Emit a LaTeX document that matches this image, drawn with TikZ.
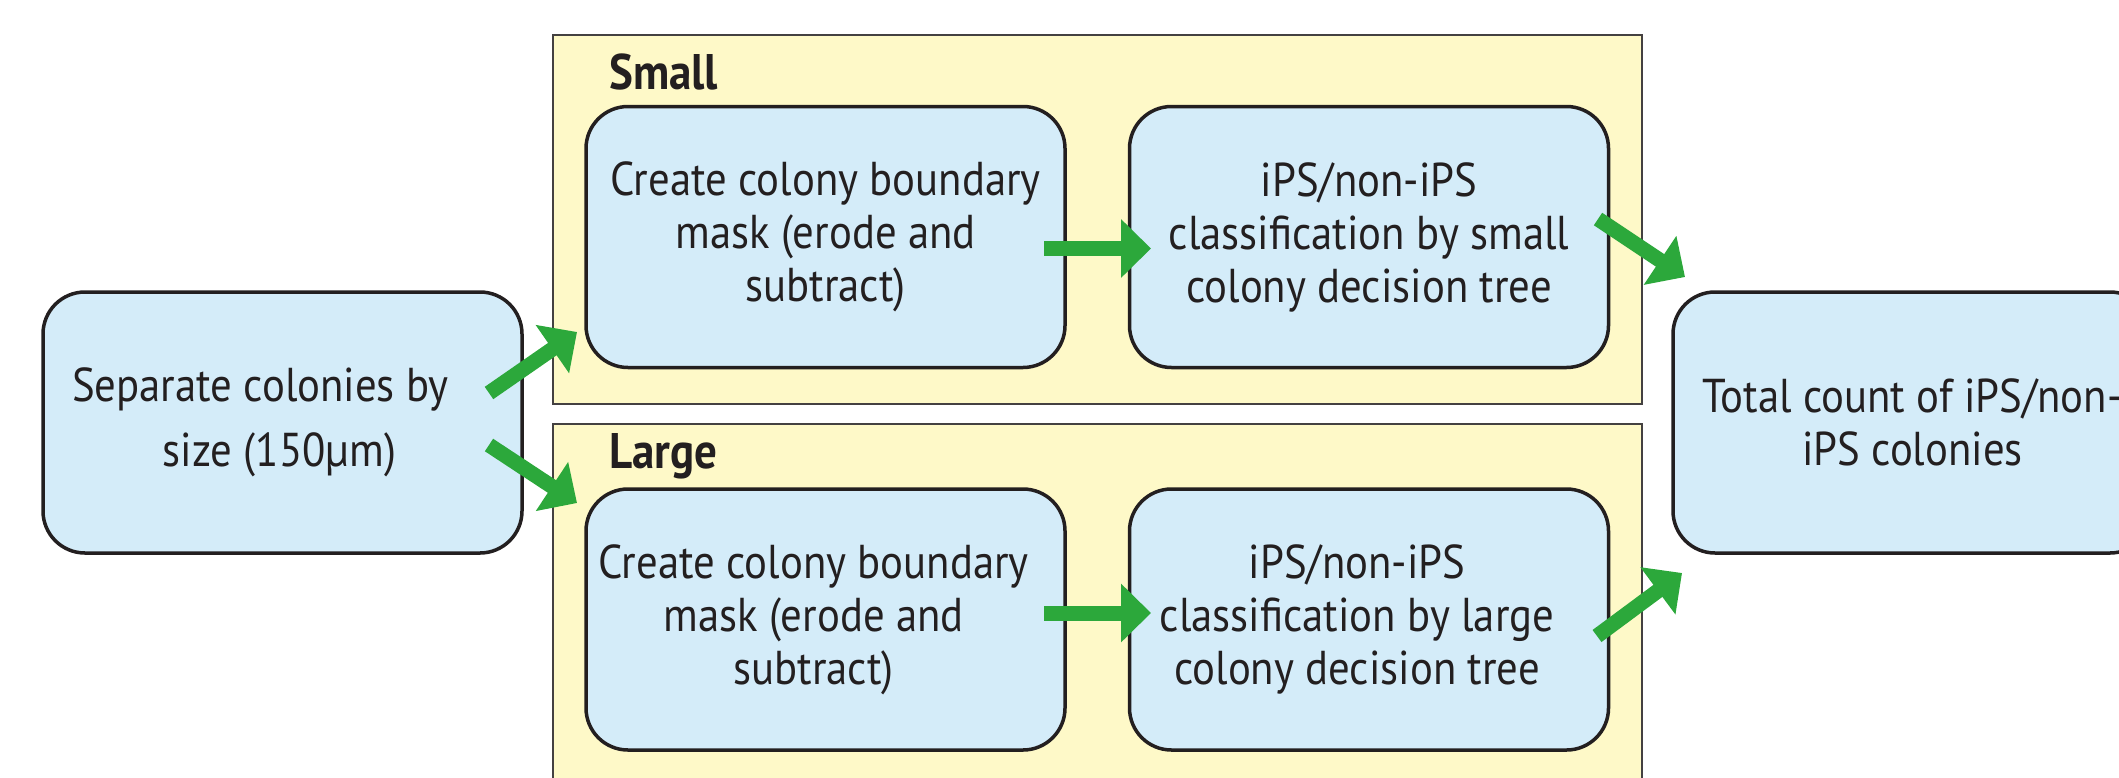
\documentclass[tikz,border=0pt]{standalone}
\usepackage{fontspec}
\setmainfont{PT Sans}[FakeStretch=0.9]
\usetikzlibrary{arrows.meta}
\definecolor{boxblue}{HTML}{D4ECF9}
\definecolor{paneyellow}{HTML}{FEF9C8}
\definecolor{edgedark}{HTML}{231F20}
\definecolor{arrowgreen}{HTML}{2CA83B}
\newcommand{\padr}[1]{\rule{#1}{0pt}}
\begin{document}
\begin{tikzpicture}[x=1pt,y=-1pt,
  stepbox/.style={draw=edgedark, line width=3.5pt, fill=boxblue, rounded corners=42pt,
    minimum width=479pt, minimum height=261pt, align=center, inner sep=0pt,
    font=\fontsize{47.5}{53}\selectfont, text=edgedark},
  pane/.style={draw=edgedark!85, line width=2pt, fill=paneyellow, inner sep=0pt, minimum width=1089pt},
  panelabel/.style={anchor=base west, inner sep=0pt, font=\fontsize{50}{54}\selectfont\bfseries, text=edgedark},
  flow/.style={draw=arrowgreen, line width=15pt, -{Triangle[length=30pt,width=57pt]}}
]
\useasboundingbox (0,0) rectangle (2119,777);
\clip (0,0) rectangle (2119,777);
% panes
\node[pane, minimum height=369pt] (smallpane) at (1097.5,219.5) {};
\node[pane, minimum height=396pt] (largepane) at (1097.5,622) {};
\node[panelabel] (smalllabel) at (609,89) {Small};
\node[panelabel] (largelabel) at (609,468) {Large};
% step boxes
\node[stepbox, font=\fontsize{47.5}{65}\selectfont] (sep) at (282.5,422.5) {Separate colonies by\padr{44pt}\\size (150µm)\padr{6pt}};
\node[stepbox] (s1) at (825.5,237) {Create colony boundary\\mask (erode and\\subtract)};
\node[stepbox] (s2) at (1369,237) {iPS/non-iPS\\classification by small\\colony decision tree};
\node[stepbox] (l1) at (825.5,619.5) {Create colony boundary\padr{24pt}\\mask (erode and\padr{24pt}\\subtract)\padr{24pt}};
\node[stepbox] (l2) at (1369,619.5) {iPS/non-iPS\padr{24pt}\\classification by large\padr{24pt}\\colony decision tree\padr{24pt}};
\node[stepbox] (total) at (1912.5,422.5) {Total count of iPS/non-\\iPS colonies};
% arrow end points
\coordinate (aSepS) at (489,393);
\coordinate (aS1) at (577,332);
\coordinate (aSepL) at (489,445);
\coordinate (aL1) at (577,503);
\coordinate (aS1out) at (1044,248.5);
\coordinate (aS2in) at (1151,248.5);
\coordinate (aL1out) at (1044,613);
\coordinate (aL2in) at (1151,613);
\coordinate (aS2out) at (1598,219);
\coordinate (aTotS) at (1685,277);
\coordinate (aL2out) at (1597,636);
\coordinate (aTotL) at (1682,573);
\draw[flow] (aSepS) -- (aS1);
\draw[flow] (aSepL) -- (aL1);
\draw[flow] (aS1out) -- (aS2in);
\draw[flow] (aL1out) -- (aL2in);
\draw[flow] (aS2out) -- (aTotS);
\draw[flow] (aL2out) -- (aTotL);
\end{tikzpicture}
\end{document}
